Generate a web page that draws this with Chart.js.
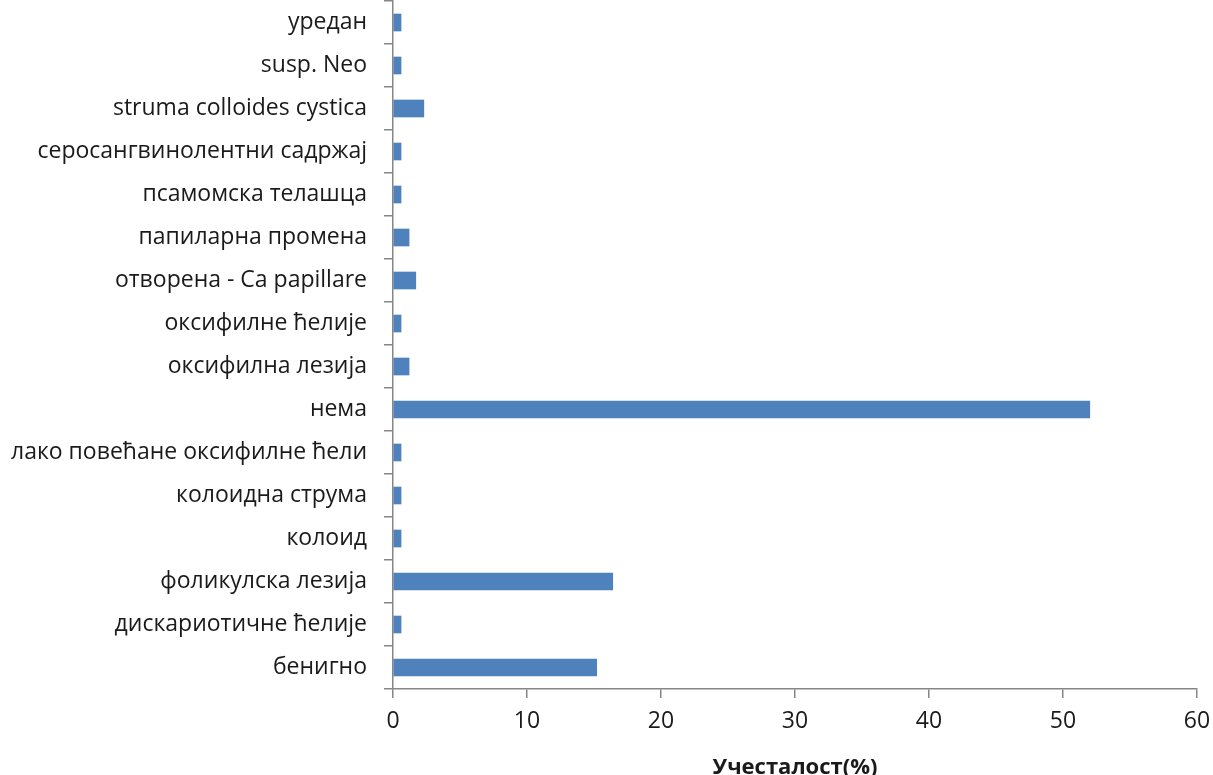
<!DOCTYPE html>
<html>
<head>
<meta charset="utf-8">
<script src="https://cdn.jsdelivr.net/npm/chart.js@4/dist/chart.umd.min.js"></script>
<style>
  html, body { margin: 0; padding: 0; background: #fff; }
  #wrap { width: 1213px; height: 775px; position: relative; }
</style>
</head>
<body>
<div id="wrap"><canvas id="nalazi"></canvas></div>
<script>
// Налази (одозго надоле)
const kategorije = [
  "уредан",
  "susp. Neo",
  "struma colloides cystica",
  "серосангвинолентни садржај",
  "псамомска телашца",
  "папиларна промена",
  "отворена - Ca papillare",
  "оксифилне ћелије",
  "оксифилна лезија",
  "нема",
  "лако повећане оксифилне ћели",
  "колоидна струма",
  "колоид",
  "фоликулска лезија",
  "дискариотичне ћелије",
  "бенигно"
];

// Учесталост у процентима
const ucestalost = [0.6, 0.6, 2.3, 0.6, 0.6, 1.2, 1.7, 0.6, 1.2, 52.0, 0.6, 0.6, 0.6, 16.4, 0.6, 15.2];

const xTicks = [0, 10, 20, 30, 40, 50, 60];

const font = "'Open Sans', sans-serif";
const siva = '#868686';

// без додатног простора око скала, површина графика иде до ивица
const bezPadinga = s => { s.paddingTop = 0; s.paddingBottom = 0; s.paddingLeft = 0; s.paddingRight = 0; };

new Chart(document.getElementById('nalazi'), {
  type: 'bar',
  data: {
    labels: kategorije,
    datasets: [{
      data: ucestalost,
      backgroundColor: '#4F81BD',
      barThickness: 17
    }]
  },
  options: {
    indexAxis: 'y',
    responsive: true,
    maintainAspectRatio: false,
    animation: false,
    layout: { padding: { top: 1, right: 16, left: 0, bottom: 0 } },
    plugins: {
      legend: { display: false },
      tooltip: { enabled: false }
    },
    scales: {
      x: {
        min: 0,
        max: 60,
        afterBuildTicks: s => { s.ticks = xTicks.map(v => ({ value: v })); },
        afterFit: s => { bezPadinga(s); s.height = 86; },
        border: { color: siva, width: 1.5 },
        grid: { drawOnChartArea: false, color: siva, tickLength: 9, lineWidth: 1.5 },
        ticks: { color: '#1a1a1a', padding: 10, font: { family: font, size: 23 } },
        title: {
          display: true,
          text: 'Учесталост(%)',
          color: '#1a1a1a',
          font: { family: font, size: 22, weight: 'bold' },
          padding: { top: 0, bottom: -6 }
        }
      },
      y: {
        afterFit: s => { bezPadinga(s); s.width = 393; },
        border: { color: siva, width: 1.5 },
        grid: { drawOnChartArea: false, color: siva, tickLength: 9, lineWidth: 1.5 },
        ticks: { color: '#1a1a1a', padding: 17, font: { family: font, size: 23 } }
      }
    }
  }
});
</script>
</body>
</html>
